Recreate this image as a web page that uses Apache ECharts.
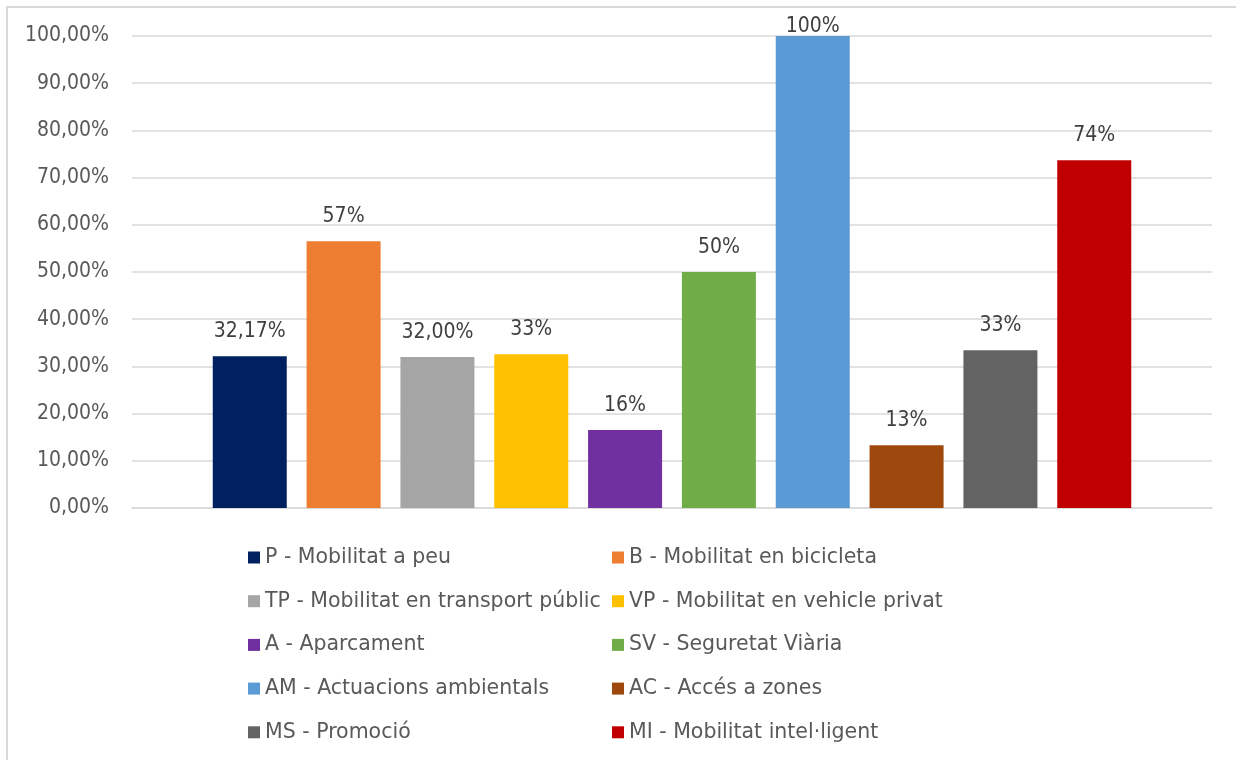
<!DOCTYPE html>
<html>
<head>
<meta charset="utf-8">
<script src="https://cdn.jsdelivr.net/npm/echarts@6/dist/echarts.min.js"></script>
<style>
html,body{margin:0;padding:0;background:#fff;}
#c{width:1236px;height:760px;}
</style>
</head>
<body>
<div id="c"></div>
<script>
var seriesNames = [
  'P - Mobilitat a peu',
  'B - Mobilitat en bicicleta',
  'TP - Mobilitat en transport públic',
  'VP - Mobilitat en vehicle privat',
  'A - Aparcament',
  'SV - Seguretat Viària',
  'AM - Actuacions ambientals',
  'AC - Accés a zones',
  'MS - Promoció',
  'MI - Mobilitat intel·ligent'
];
var values = [32.17, 56.5, 32.0, 32.6, 16.5, 50.0, 100.0, 13.3, 33.4, 73.7];
var valueLabels = ['32,17%', '57%', '32,00%', '33%', '16%', '50%', '100%', '13%', '33%', '74%'];
var colors = ['#002060', '#ED7D31', '#A5A5A5', '#FFC000', '#7030A0', '#70AD47', '#5B9BD5', '#9E480E', '#636363', '#C00000'];
var yTicks = [0, 10, 20, 30, 40, 50, 60, 70, 80, 90, 100];

var FONT = '"DejaVu Sans Condensed", "DejaVu Sans", sans-serif';
var LEGEND_FONT = '"DejaVu Sans", sans-serif';
var chart = echarts.init(document.getElementById('c'), null, {renderer: 'canvas'});

var series = seriesNames.map(function (name, i) {
  return {
    name: name,
    type: 'bar',
    data: [values[i]],
    barWidth: 74,
    barGap: '26.8%',
    itemStyle: {color: colors[i]},
    label: {
      show: true,
      position: 'top',
      distance: values[i] >= yTicks[yTicks.length - 1] ? -1 : 14,
      color: '#404040',
      fontFamily: FONT,
      fontSize: 21,
      lineHeight: 21,
      formatter: function () { return valueLabels[i]; }
    }
  };
});

var col1 = [0, 2, 4, 6, 8].map(function (i) { return seriesNames[i]; });
var col2 = [1, 3, 5, 7, 9].map(function (i) { return seriesNames[i]; });
function legendCol(data, left) {
  return {
    data: data,
    orient: 'vertical',
    left: left,
    top: 547,
    itemWidth: 12,
    itemHeight: 12,
    itemGap: 22.7,
    icon: 'rect',
    selectedMode: false,
    padding: 0,
    textStyle: {color: '#595959', fontFamily: LEGEND_FONT, fontSize: 20.5, lineHeight: 21, padding: [0, 0, 0, 0]}
  };
}

chart.setOption({
  animation: false,
  backgroundColor: '#fff',
  graphic: [{
    type: 'rect',
    shape: {x: 7, y: 7, width: 1260, height: 800},
    style: {fill: 'none', stroke: '#d9d9d9', lineWidth: 2},
    silent: true
  }],
  grid: {left: 132, right: 24, top: 36, bottom: 252, containLabel: false},
  legend: [legendCol(col1, 248), legendCol(col2, 612)],
  xAxis: {
    type: 'category',
    data: [''],
    axisTick: {show: false},
    axisLabel: {show: false},
    axisLine: {lineStyle: {color: '#d9d9d9', width: 1.5}}
  },
  yAxis: {
    type: 'value',
    min: yTicks[0],
    max: yTicks[yTicks.length - 1],
    interval: yTicks[1] - yTicks[0],
    axisLine: {show: false},
    axisTick: {show: false},
    splitLine: {lineStyle: {color: '#d9d9d9', width: 1.5}},
    axisLabel: {
      margin: 23,
      color: '#595959',
      fontFamily: FONT,
      fontSize: 21,
      formatter: function (v) { return v.toFixed(2).replace('.', ',') + '%'; }
    }
  },
  series: series
});
</script>
</body>
</html>
